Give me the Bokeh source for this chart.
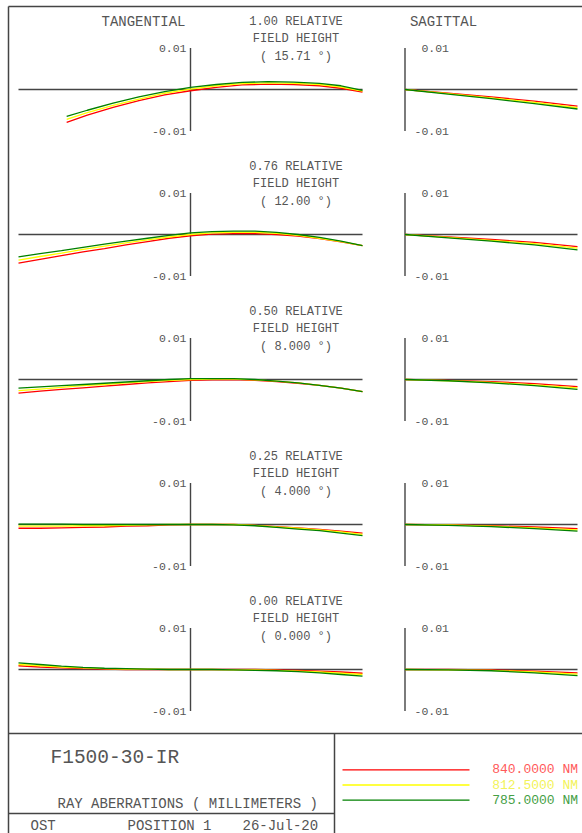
from bokeh.plotting import figure
from bokeh.models import Range1d
from bokeh.embed import file_html
from bokeh.resources import INLINE
from bokeh.core.properties import value

# ---------------- data ----------------
fields = ["1.00", "0.76", "0.50", "0.25", "0.00"]
angles = ["15.71", "12.00", "8.000", "4.000", "0.000"]
wavelengths = ["840.0000 NM", "812.5000 NM", "785.0000 NM"]

# tangential pupil coordinates
pupil_t1 = [-0.72, -0.6, -0.45, -0.3, -0.15, 0.0, 0.15, 0.3, 0.45, 0.6, 0.75, 0.875, 1.0]
pupil_t = [-1.0, -0.875, -0.75, -0.625, -0.5, -0.375, -0.25, -0.125, 0.0,
           0.125, 0.25, 0.375, 0.5, 0.625, 0.75, 0.875, 1.0]

# tangential ray aberration (mm), one list per field
tan_red = [
    [-0.0079, -0.0062, -0.0043, -0.0027, -0.0013, -0.0003, 0.0005, 0.0011, 0.0013, 0.0012, 0.0009, 0.0003, -0.0006],
    [-0.0069, -0.0060, -0.0051, -0.0042, -0.0034, -0.0025, -0.0017, -0.0009, -0.0003, 0.0001, 0.0002, 0.0002, 0.0000, -0.0004, -0.0010, -0.0018, -0.0027],
    [-0.0033, -0.0028, -0.0024, -0.0020, -0.0016, -0.0012, -0.0008, -0.0005, -0.0002, -0.0001, 0.0000, -0.0002, -0.0005, -0.0009, -0.0014, -0.0021, -0.0029],
    [-0.0009, -0.0009, -0.0008, -0.0007, -0.0006, -0.0004, -0.0003, -0.0001, 0.0000, 0.0000, 0.0000, -0.0002, -0.0005, -0.0008, -0.0012, -0.0016, -0.0021],
    [0.0009, 0.0006, 0.0004, 0.0002, 0.0001, 0.0000, 0.0000, 0.0000, 0.0000, 0.0000, 0.0000, 0.0000, -0.0001, -0.0002, -0.0004, -0.0006, -0.0009],
]
tan_yellow = [
    [-0.0072, -0.0056, -0.0038, -0.0023, -0.0009, 0.0001, 0.0009, 0.0014, 0.0016, 0.0015, 0.0012, 0.0006, -0.0004],
    [-0.0062, -0.0053, -0.0045, -0.0036, -0.0028, -0.0020, -0.0013, -0.0006, 0.0000, 0.0004, 0.0005, 0.0005, 0.0003, -0.0002, -0.0009, -0.0017, -0.0027],
    [-0.0027, -0.0023, -0.0019, -0.0015, -0.0012, -0.0008, -0.0005, -0.0002, 0.0000, 0.0001, 0.0001, -0.0001, -0.0004, -0.0008, -0.0014, -0.0021, -0.0029],
    [-0.0004, -0.0004, -0.0004, -0.0003, -0.0003, -0.0002, -0.0001, 0.0000, 0.0000, 0.0000, 0.0000, -0.0002, -0.0006, -0.0009, -0.0013, -0.0018, -0.0024],
    [0.0012, 0.0009, 0.0006, 0.0004, 0.0002, 0.0001, 0.0001, 0.0000, 0.0000, 0.0000, -0.0001, -0.0001, -0.0002, -0.0004, -0.0006, -0.0009, -0.0012],
]
tan_green = [
    [-0.0065, -0.0050, -0.0033, -0.0018, -0.0005, 0.0005, 0.0012, 0.0017, 0.0019, 0.0018, 0.0015, 0.0009, -0.0002],
    [-0.0054, -0.0046, -0.0039, -0.0031, -0.0023, -0.0016, -0.0009, -0.0002, 0.0004, 0.0007, 0.0008, 0.0008, 0.0005, 0.0000, -0.0007, -0.0016, -0.0027],
    [-0.0021, -0.0018, -0.0015, -0.0012, -0.0009, -0.0006, -0.0003, 0.0000, 0.0002, 0.0002, 0.0002, 0.0000, -0.0004, -0.0008, -0.0014, -0.0021, -0.0029],
    [0.0001, 0.0001, 0.0001, 0.0000, 0.0000, 0.0000, 0.0000, 0.0000, 0.0000, 0.0000, -0.0001, -0.0003, -0.0007, -0.0011, -0.0015, -0.0021, -0.0027],
    [0.0016, 0.0012, 0.0008, 0.0005, 0.0003, 0.0002, 0.0001, 0.0000, 0.0000, 0.0000, -0.0001, -0.0002, -0.0003, -0.0005, -0.0008, -0.0012, -0.0016],
]

# sagittal pupil coordinates and ray aberrations (mm)
pupil_s = [0.0, 0.25, 0.5, 0.75, 1.0]
sag_red = [
    [0.0, -0.0009, -0.0018, -0.0028, -0.0040],
    [0.0, -0.0006, -0.0012, -0.0019, -0.0029],
    [0.0, -0.0002, -0.0005, -0.0010, -0.0017],
    [0.0, -0.0001, -0.0003, -0.0006, -0.0010],
    [0.0, 0.0000, -0.0001, -0.0004, -0.0008],
]
sag_yellow = [
    [0.0, -0.0010, -0.0020, -0.0031, -0.0044],
    [0.0, -0.0007, -0.0014, -0.0022, -0.0033],
    [0.0, -0.0003, -0.0007, -0.0013, -0.0020],
    [0.0, -0.0001, -0.0004, -0.0008, -0.0013],
    [0.0, -0.0001, -0.0002, -0.0006, -0.0011],
]
sag_green = [
    [0.0, -0.0011, -0.0022, -0.0034, -0.0047],
    [0.0, -0.0008, -0.0016, -0.0025, -0.0037],
    [0.0, -0.0003, -0.0008, -0.0015, -0.0024],
    [0.0, -0.0002, -0.0005, -0.0010, -0.0016],
    [0.0, -0.0001, -0.0003, -0.0008, -0.0015],
]

y_ticks = [0.01, -0.01]
y_tick_labels = ["0.01", "-0.01"]

# ---------------- style ----------------
FONT = value("Liberation Mono")
TXT = "#555555"
AX = "#444444"
curve_colors = ["#ff0000", "#ffff00", "#008000"]
legend_text_colors = ["#ff5a5a", "#f3f35a", "#45a045"]

p = figure(width=582, height=833, x_range=Range1d(0, 582), y_range=Range1d(833, 0),
           output_backend="svg", toolbar_location=None, min_border=0,
           x_axis_location=None, y_axis_location=None)
p.grid.visible = False
p.outline_line_color = None

# frame (layout lines in page coordinates)
p.line([8, 8], [6, 833], line_color=AX, line_width=1.5)
p.line([8, 582], [6, 6], line_color=AX, line_width=1.5)
p.line([8, 582], [733, 733], line_color=AX, line_width=1.5)
p.line([334, 334], [733, 833], line_color=AX, line_width=1.5)
p.line([8, 334], [813, 813], line_color=AX, line_width=1.5)

def txt(x, y, s, size="12px", align="center", color=TXT):
    p.text(x=[x], y=[y], text=[s], text_font=FONT, text_font_size=size,
           text_align=align, text_baseline="middle", text_color=color)

txt(143, 21, "TANGENTIAL", "14px")
txt(443, 21, "SAGITTAL", "14px")

HALF = 41.5
for i in range(5):
    yc = 89 + 145 * i
    tan = p.subplot(x_source=Range1d(-1, 1), y_source=Range1d(-0.01, 0.01),
                    x_target=Range1d(18, 362), y_target=Range1d(yc + HALF, yc - HALF))
    sag = p.subplot(x_source=Range1d(0, 1), y_source=Range1d(-0.01, 0.01),
                    x_target=Range1d(404.5, 577), y_target=Range1d(yc + HALF, yc - HALF))
    # axes
    tan.line([-1, 1], [0, 0], line_color=AX, line_width=1.4)
    tan.line([0, 0], [-0.01, 0.01], line_color=AX, line_width=1.4)
    sag.line([0, 1], [0, 0], line_color=AX, line_width=1.4)
    sag.line([0, 0], [-0.01, 0.01], line_color=AX, line_width=1.4)
    tan.text(x=[0, 0], y=y_ticks, text=y_tick_labels, text_font=FONT, text_font_size="11.5px",
             text_align="right", text_baseline="middle", text_color=TXT, x_offset=-4)
    sag.text(x=[0, 0], y=y_ticks, text=y_tick_labels, text_font=FONT, text_font_size="11.5px",
             text_align="right", text_baseline="middle", text_color=TXT, x_offset=44)
    # curves
    tx = pupil_t1 if i == 0 else pupil_t
    for ys, c in zip([tan_red[i], tan_yellow[i], tan_green[i]], curve_colors):
        tan.line(tx, ys, line_color=c, line_width=1.3)
    for ys, c in zip([sag_red[i], sag_yellow[i], sag_green[i]], curve_colors):
        sag.line(pupil_s, ys, line_color=c, line_width=1.3)
    # field header
    txt(295.5, yc - 67.5, f"{fields[i]} RELATIVE")
    txt(295.5, yc - 50.2, "FIELD HEIGHT")
    txt(295.5, yc - 32.5, f"( {angles[i]} \u00b0)")

# title block
txt(50, 757, "F1500-30-IR", "19.5px", align="left")
txt(57, 803, "RAY ABERRATIONS ( MILLIMETERS )", "14px", align="left")
txt(30, 825, "OST", "14px", align="left")
txt(127, 825, "POSITION 1", "14px", align="left")
txt(242, 825, "26-Jul-20", "14px", align="left")

# legend
for ly, c, tc, lab in zip([769.3, 784.5, 799.7], curve_colors, legend_text_colors, wavelengths):
    p.line([342, 469], [ly, ly], line_color=c, line_width=1.3)
    txt(577.5, ly, lab, "13px", align="right", color=tc)

open("out.html", "w").write(file_html(p, INLINE))
